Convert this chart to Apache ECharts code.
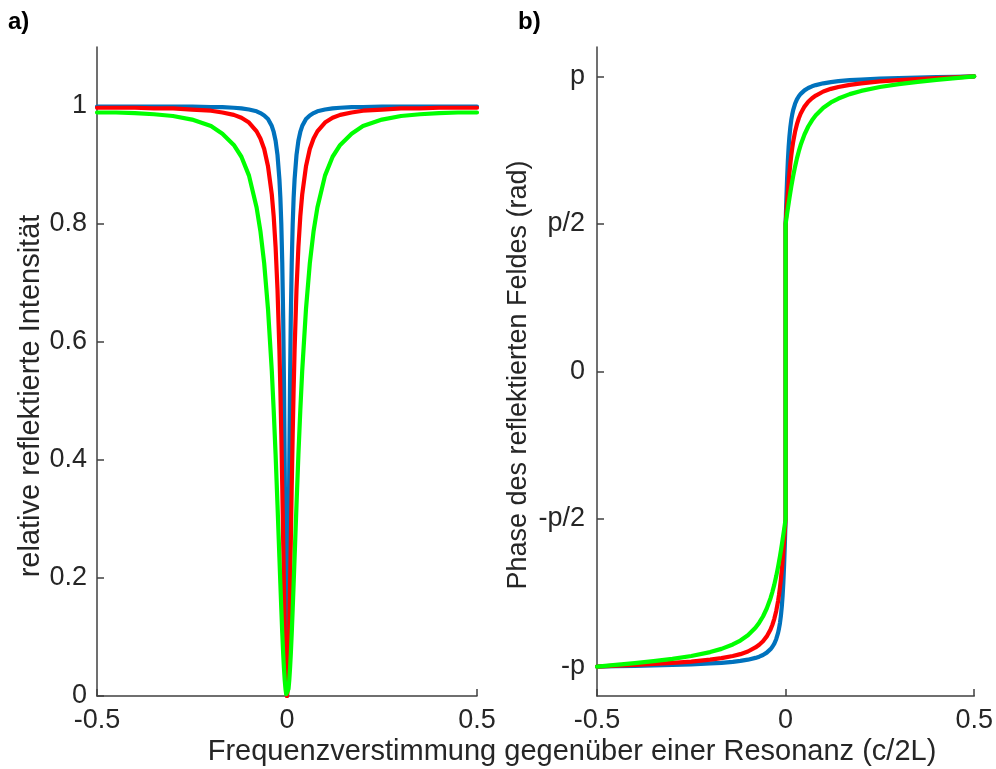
<!DOCTYPE html>
<html><head><meta charset="utf-8">
<script src="https://cdn.jsdelivr.net/npm/echarts@6/dist/echarts.min.js"></script>
<style>html,body{margin:0;padding:0;background:#fff}#c{width:996px;height:769px}</style>
</head><body><div id="c"></div>
<script>
// detuning from a resonance (units of c/2L); 0 appears twice for the phase jump
const detuning = [-0.5,-0.45,-0.4,-0.35,-0.3,-0.25,-0.2,-0.17,-0.14,-0.12,-0.1,-0.08,-0.07,-0.06,-0.05,-0.04,-0.035,-0.03,-0.025,-0.02,-0.0175,-0.015,-0.0125,-0.01,-0.008,-0.006,-0.004,-0.002,0,0,0.002,0.004,0.006,0.008,0.01,0.0125,0.015,0.0175,0.02,0.025,0.03,0.035,0.04,0.05,0.06,0.07,0.08,0.1,0.12,0.14,0.17,0.2,0.25,0.3,0.35,0.4,0.45,0.5];

// a) relative reflected intensity
const intensityBlue = [0.999,0.999,0.999,0.999,0.999,0.999,0.998,0.998,0.997,0.996,0.994,0.991,0.988,0.984,0.978,0.966,0.956,0.941,0.917,0.876,0.845,0.800,0.735,0.640,0.532,0.390,0.221,0.066,0,0,0.066,0.221,0.390,0.532,0.640,0.735,0.800,0.845,0.876,0.917,0.941,0.956,0.966,0.978,0.984,0.988,0.991,0.994,0.996,0.997,0.998,0.998,0.999,0.999,0.999,0.999,0.999,0.999];
const intensityRed = [0.997,0.997,0.997,0.996,0.996,0.994,0.992,0.989,0.985,0.980,0.972,0.957,0.945,0.927,0.898,0.850,0.813,0.761,0.689,0.587,0.521,0.444,0.357,0.262,0.185,0.113,0.054,0.014,0,0,0.014,0.054,0.113,0.185,0.262,0.357,0.444,0.521,0.587,0.689,0.761,0.813,0.850,0.898,0.927,0.945,0.957,0.972,0.980,0.985,0.989,0.992,0.994,0.996,0.996,0.997,0.997,0.997];
const intensityGreen = [0.989,0.989,0.988,0.986,0.983,0.977,0.966,0.953,0.934,0.914,0.882,0.828,0.788,0.733,0.656,0.551,0.484,0.409,0.324,0.235,0.191,0.148,0.107,0.071,0.047,0.027,0.012,0.003,0,0,0.003,0.012,0.027,0.047,0.071,0.107,0.148,0.191,0.235,0.324,0.409,0.484,0.551,0.656,0.733,0.788,0.828,0.882,0.914,0.934,0.953,0.966,0.977,0.983,0.986,0.988,0.989,0.989];

// b) phase of the reflected field (rad)
const phaseBlue = [-3.142,-3.138,-3.134,-3.130,-3.125,-3.118,-3.109,-3.102,-3.092,-3.082,-3.069,-3.050,-3.037,-3.019,-2.994,-2.957,-2.931,-2.898,-2.851,-2.783,-2.737,-2.679,-2.602,-2.498,-2.389,-2.246,-2.061,-1.832,-1.571,1.571,1.832,2.061,2.246,2.389,2.498,2.602,2.679,2.737,2.783,2.851,2.898,2.931,2.957,2.994,3.019,3.037,3.050,3.069,3.082,3.092,3.102,3.109,3.118,3.125,3.130,3.134,3.138,3.142];
const phaseRed = [-3.142,-3.133,-3.125,-3.115,-3.103,-3.089,-3.069,-3.053,-3.030,-3.010,-2.982,-2.939,-2.910,-2.873,-2.821,-2.747,-2.697,-2.634,-2.552,-2.445,-2.379,-2.301,-2.212,-2.109,-2.017,-1.915,-1.805,-1.690,-1.571,1.571,1.690,1.805,1.915,2.017,2.109,2.212,2.301,2.379,2.445,2.552,2.634,2.697,2.747,2.821,2.873,2.910,2.939,2.982,3.010,3.030,3.053,3.069,3.089,3.103,3.115,3.125,3.133,3.142];
const phaseGreen = [-3.142,-3.124,-3.105,-3.084,-3.060,-3.030,-2.988,-2.954,-2.907,-2.865,-2.809,-2.729,-2.675,-2.609,-2.524,-2.414,-2.346,-2.270,-2.181,-2.081,-2.025,-1.968,-1.907,-1.843,-1.791,-1.737,-1.682,-1.627,-1.571,1.571,1.627,1.682,1.737,1.791,1.843,1.907,1.968,2.025,2.081,2.181,2.270,2.346,2.414,2.524,2.609,2.675,2.729,2.809,2.865,2.907,2.954,2.988,3.030,3.060,3.084,3.105,3.124,3.142];

// ticks
const xTickValues = [-0.5, 0, 0.5];
const xTickLabels = ['-0.5', '0', '0.5'];
const intensityTickValues = [0, 0.2, 0.4, 0.6, 0.8, 1];
const intensityTickLabels = ['0', '0.2', '0.4', '0.6', '0.8', '1'];
const phaseTickValues = [-Math.PI, -Math.PI / 2, 0, Math.PI / 2, Math.PI];
const phaseTickLabels = ['-p', '-p/2', '0', 'p/2', 'p'];

const FONT = "'Liberation Sans', Arial, Helvetica, sans-serif";
const AXIS_COLOR = '#404040';
const TEXT_COLOR = '#262626';
const TICK_FS = 27;

function lookup(values, labels) {
  return function (v) {
    for (let i = 0; i < values.length; i++) if (Math.abs(values[i] - v) < 1e-6) return labels[i];
    return '';
  };
}
function pairs(ys) { return detuning.map((x, i) => [x, ys[i]]); }

function xAxis(gridIndex) {
  return {
    type: 'value', gridIndex, min: -0.5, max: 0.5,
    axisLine: { show: true, onZero: false, lineStyle: { color: AXIS_COLOR, width: 1.5 } },
    axisTick: { show: true, inside: true, length: 7, customValues: xTickValues, lineStyle: { color: AXIS_COLOR, width: 1.5 } },
    axisLabel: { customValues: xTickValues, formatter: lookup(xTickValues, xTickLabels), fontFamily: FONT, fontSize: TICK_FS, color: TEXT_COLOR, margin: 11 },
    splitLine: { show: false }
  };
}
function yAxis(gridIndex, min, max, values, labels, margin) {
  return {
    type: 'value', gridIndex, min, max, position: 'left',
    axisLine: { show: true, onZero: false, lineStyle: { color: AXIS_COLOR, width: 1.5 } },
    axisTick: { show: true, inside: true, length: 7, customValues: values, lineStyle: { color: AXIS_COLOR, width: 1.5 } },
    axisLabel: { customValues: values, formatter: lookup(values, labels), fontFamily: FONT, fontSize: TICK_FS, color: TEXT_COLOR, margin },
    splitLine: { show: false }
  };
}

const chart = echarts.init(document.getElementById('c'), null, { renderer: 'canvas' });
const lineOpts = (name, color, xi, data) => ({
  name, type: 'line', xAxisIndex: xi, yAxisIndex: xi, data,
  showSymbol: false, symbol: 'none', smooth: false, clip: true,
  lineStyle: { color, width: 4.2, cap: 'round', join: 'round' }, z: 3
});

chart.setOption({
  animation: false,
  backgroundColor: '#fff',
  grid: [
    { left: 97, right: 519, top: 47, bottom: 73, containLabel: false },
    { left: 597, right: 20, top: 47, bottom: 73, containLabel: false }
  ],
  xAxis: [xAxis(0), xAxis(1)],
  yAxis: [
    yAxis(0, 0, 1.1, intensityTickValues, intensityTickLabels, 10),
    yAxis(1, -1.1 * Math.PI, 1.1 * Math.PI, phaseTickValues, phaseTickLabels, 12)
  ],
  graphic: [
    { type: 'text', left: 8, top: 10, style: { text: 'a)', font: "bold 24px 'Liberation Sans', Arial, sans-serif", fill: '#000' } },
    { type: 'text', left: 518, top: 10, style: { text: 'b)', font: "bold 24px 'Liberation Sans', Arial, sans-serif", fill: '#000' } },
    { type: 'text', x: 572, y: 752, style: { text: 'Frequenzverstimmung gegenüber einer Resonanz (c/2L)', font: "29px 'Liberation Sans', Arial, sans-serif", fill: TEXT_COLOR, align: 'center', verticalAlign: 'middle' } },
    { type: 'text', x: 31, y: 396, rotation: Math.PI / 2, style: { text: 'relative reflektierte Intensität', font: "29px 'Liberation Sans', Arial, sans-serif", fill: TEXT_COLOR, align: 'center', verticalAlign: 'middle' } },
    { type: 'text', x: 519, y: 375, rotation: Math.PI / 2, style: { text: 'Phase des reflektierten Feldes (rad)', font: "27px 'Liberation Sans', Arial, sans-serif", fill: TEXT_COLOR, align: 'center', verticalAlign: 'middle' } }
  ],
  series: [
    lineOpts('blue', '#0072BD', 0, pairs(intensityBlue)),
    lineOpts('red', '#FF0000', 0, pairs(intensityRed)),
    lineOpts('green', '#00FF00', 0, pairs(intensityGreen)),
    lineOpts('blue', '#0072BD', 1, pairs(phaseBlue)),
    lineOpts('red', '#FF0000', 1, pairs(phaseRed)),
    lineOpts('green', '#00FF00', 1, pairs(phaseGreen))
  ]
});
</script>
</body></html>
